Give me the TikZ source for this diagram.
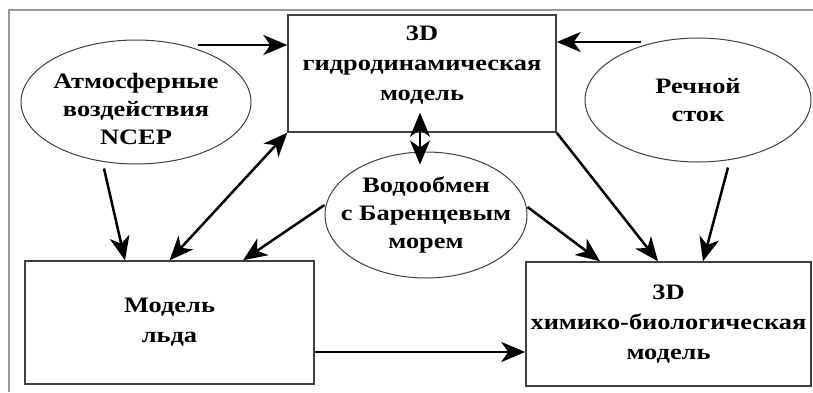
\documentclass[tikz,border=0pt]{standalone}
\usepackage{fontspec}
\setmainfont{Liberation Serif}[FakeStretch=1.2]
\usepackage{tikz}
\usetikzlibrary{positioning}
\usetikzlibrary{calc}
\usetikzlibrary{shapes.geometric}
\usetikzlibrary{arrows.meta}

\begin{document}
\begin{tikzpicture}[x=1pt, y=-1pt,
    block/.style={draw=black!75, line width=1.4pt, rectangle, inner sep=0pt, align=center, font=\bfseries\fontsize{22}{30}\selectfont},
    source/.style={draw=black!75, line width=1pt, ellipse, inner sep=0pt},
    caption/.style={align=center, inner sep=0pt, font=\bfseries\fontsize{22}{28}\selectfont},
    link/.style={line width=2.5pt, -{Stealth[length=24pt, width=20pt, inset=7pt]}},
    twoway/.style={line width=2.5pt, {Stealth[length=24pt, width=20pt, inset=7pt]}-{Stealth[length=24pt, width=20pt, inset=7pt]}}]

    \useasboundingbox (0,0) rectangle (813,392);
    \draw[black!40, line width=1.6pt] (9,392) -- (9,10) -- (813,10);

    \node [block, minimum width=268pt, minimum height=117pt, label={[caption, yshift=8pt, font=\bfseries\fontsize{22}{30}\selectfont]center:3D\\гидродинамическая\\модель}] (hydro) at (422,73.5) {};
    \node [source, minimum width=230pt, minimum height=124pt, label={[caption, yshift=-7pt]center:Атмосферные\\воздействия\\NCEP}] (atmo) at (136,102) {};
    \node [source, minimum width=226pt, minimum height=124pt, label={[caption]center:Речной\\сток}] (river) at (698,100) {};
    \node [source, minimum width=202pt, minimum height=126pt, label={[caption]center:Водообмен\\с Баренцевым\\морем}] (water) at (426,215) {};
    \node [block, minimum width=289pt, minimum height=123pt] (ice) at (169.5,322.5) {Модель\\льда};
    \node [block, minimum width=285pt, minimum height=124pt] (chem) at (668.5,324) {3D\\химико-биологическая\\модель};

    \coordinate (atmoout) at (198,45);
    \coordinate (riverout) at (641,42);

    \draw[link] (atmoout) -- (hydro.west |- atmoout);
    \draw[link] (riverout) -- (hydro.east |- riverout);
    \draw[link] ([xshift=-32pt, yshift=-4pt]atmo.south) -- ([xshift=-44.5pt]ice.north);
    \draw[twoway] (ice.north) -- (hydro.south west);
    \draw[link] ([yshift=10pt]water.west) -- ([xshift=73.5pt]ice.north);
    \draw[twoway] ([xshift=-2pt, yshift=20pt]hydro.south) -- ([xshift=-6pt, yshift=-13pt]water.north);
    \draw[link] ([yshift=8pt]water.east) -- ([xshift=-68.5pt]chem.north);
    \draw[link] (hydro.south east) -- ([xshift=-10.5pt]chem.north);
    \draw[link] ([xshift=30pt, yshift=-5pt]river.south) -- ([xshift=34.5pt]chem.north);
    \draw[link] ([yshift=-29.5pt]ice.east) -- ([yshift=-28pt]chem.west);

\end{tikzpicture}
\end{document}
